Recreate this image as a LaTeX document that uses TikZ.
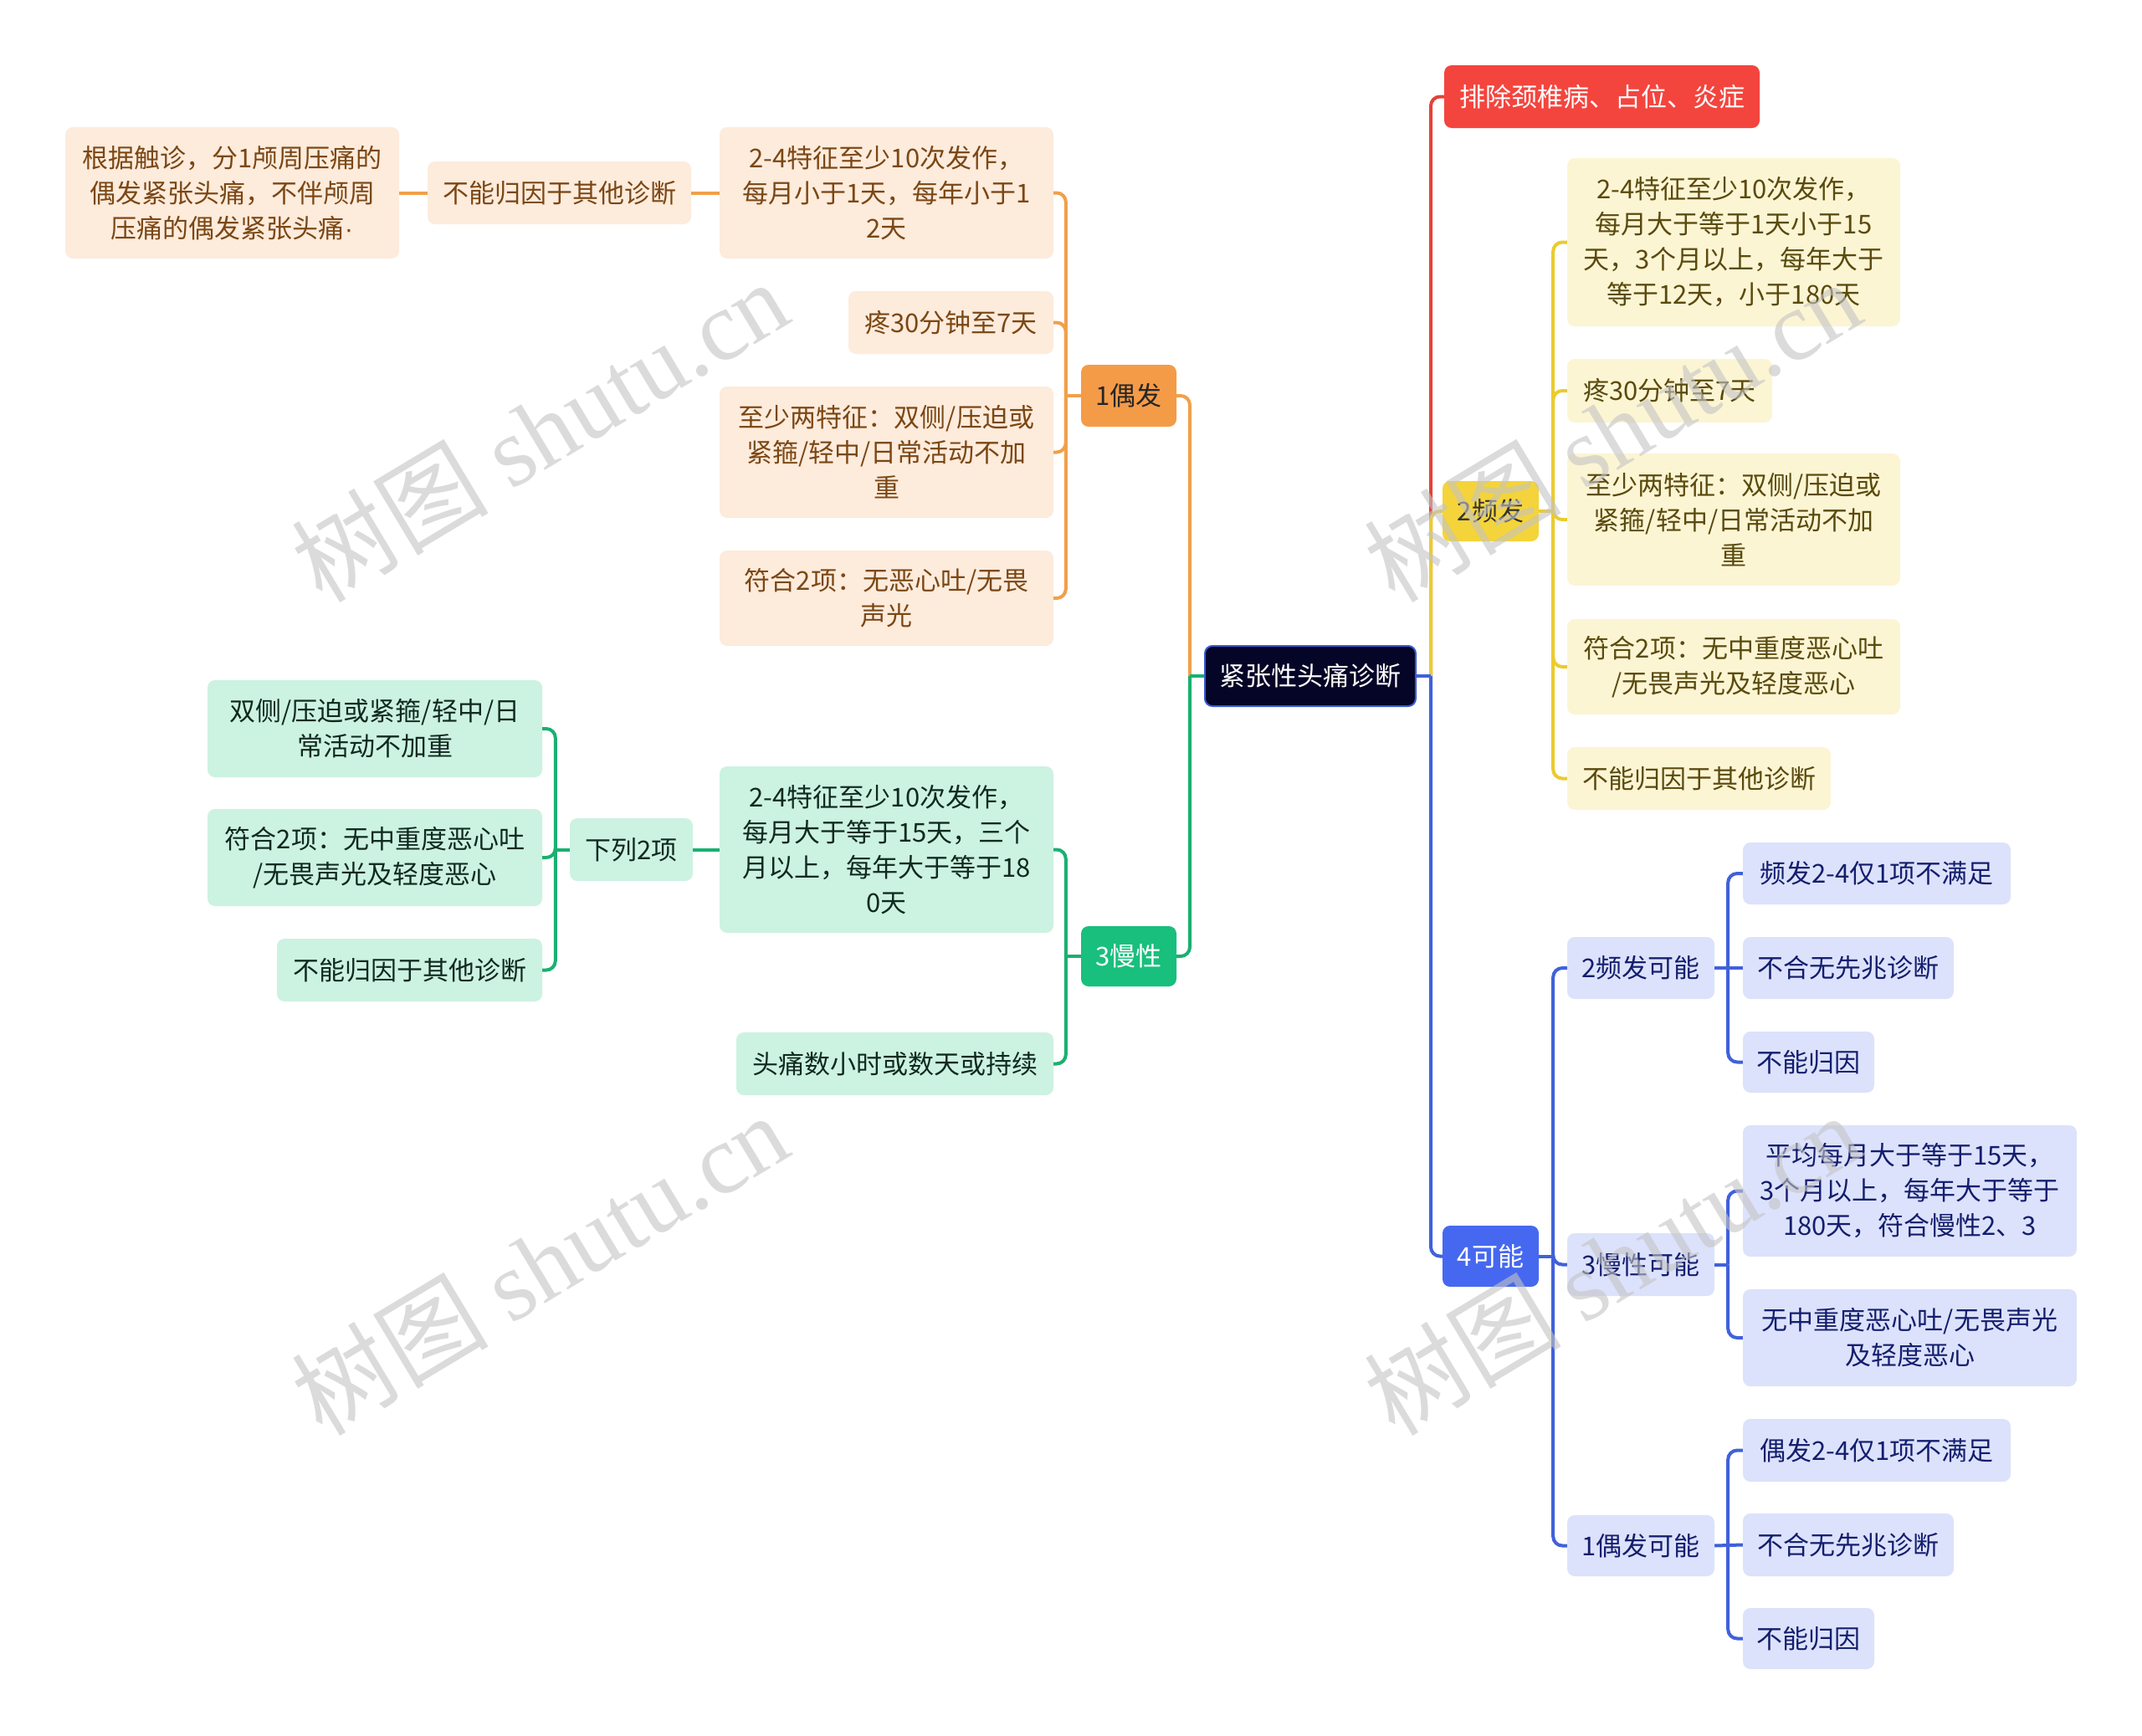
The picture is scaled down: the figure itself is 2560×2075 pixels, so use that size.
\documentclass[tikz,border=0pt]{standalone}
\usepackage{fontspec}
\setmainfont{Noto Sans CJK SC}
\newfontfamily\wmlatin{Liberation Serif}
\newfontfamily\latinsans{Liberation Sans}
\usetikzlibrary{calc}
\definecolor{rootfill}{HTML}{050527}
\definecolor{rootdraw}{HTML}{3A5BD0}
\definecolor{omain}{HTML}{F49B48}
\definecolor{oleaf}{HTML}{FDEBDC}
\definecolor{otext}{HTML}{7B4714}
\definecolor{oline}{HTML}{F0A04B}
\definecolor{gmain}{HTML}{19BF7C}
\definecolor{gleaf}{HTML}{CCF2E2}
\definecolor{gtext}{HTML}{102A1E}
\definecolor{gline}{HTML}{1AB071}
\definecolor{ymain}{HTML}{F4D43A}
\definecolor{yleaf}{HTML}{FCF5D4}
\definecolor{ytext}{HTML}{5A4A0E}
\definecolor{yline}{HTML}{EBCB2F}
\definecolor{rmain}{HTML}{F3453E}
\definecolor{rline}{HTML}{E2433B}
\definecolor{bmain}{HTML}{4668F0}
\definecolor{bleaf}{HTML}{DCE2FB}
\definecolor{btext}{HTML}{141E6E}
\definecolor{bline}{HTML}{4161DA}
\definecolor{wmgray}{HTML}{C4C4C4}
\tikzset{
  box/.style={rounded corners=9pt, align=center, inner sep=0pt,
    font=\fontsize{31}{42}\selectfont},
  rootbox/.style={box, fill=rootfill, draw=rootdraw, line width=2pt, text=white},
  obig/.style={box, fill=omain, text=black!85},
  oleafbox/.style={box, fill=oleaf, text=otext},
  gbig/.style={box, fill=gmain, text=white},
  gleafbox/.style={box, fill=gleaf, text=gtext},
  ybig/.style={box, fill=ymain, text=black!80},
  yleafbox/.style={box, fill=yleaf, text=ytext},
  rbig/.style={box, fill=rmain, text=white},
  bbig/.style={box, fill=bmain, text=white},
  bleafbox/.style={box, fill=bleaf, text=btext},
  conn/.style={line width=4pt, rounded corners=11pt},
  stub/.style={line width=4pt},
  wm/.style={text=wmgray, opacity=0.6, font=\fontsize{118}{118}\selectfont, rotate=31}
}
\newcommand\nd[7]{\node[#1, minimum width=#5pt, minimum height=#6pt] (#2) at (#3,#4) {#7};}
\begin{document}
\begin{tikzpicture}[x=1pt,y=-1pt]
\useasboundingbox[fill=white] (0,0) rectangle (2560,2075);
% nodes
\nd{rootbox}{root}{1566}{808}{252}{72}{紧张性头痛诊断}
% orange
\nd{obig}{o0}{1349}{473}{114}{74}{1偶发}
\nd{oleafbox}{a3}{1059.5}{230.5}{399}{157}{2-4特征至少10次发作，\\每月小于1天，每年小于1\\2天}
\nd{oleafbox}{a2}{668.5}{230.5}{315}{75}{不能归因于其他诊断}
\nd{oleafbox}{a1}{277.5}{230.5}{399}{157}{根据触诊，分1颅周压痛的\\偶发紧张头痛，不伴颅周\\压痛的偶发紧张头痛{\latinsans ·}}
\nd{oleafbox}{a4}{1136.5}{385.5}{245}{75}{疼30分钟至7天}
\nd{oleafbox}{a5}{1059.5}{540.5}{399}{157}{至少两特征：双侧/压迫或\\紧箍/轻中/日常活动不加\\重}
\nd{oleafbox}{a6}{1059.5}{715}{399}{114}{符合2项：无恶心吐/无畏\\声光}
% green
\nd{gbig}{g0}{1349}{1143}{114}{72}{3慢性}
\nd{gleafbox}{g1}{1059.5}{1015.5}{399}{199}{2-4特征至少10次发作，\\每月大于等于15天，三个\\月以上，每年大于等于18\\0天}
\nd{gleafbox}{g2}{1069.5}{1271.5}{379}{75}{头痛数小时或数天或持续}
\nd{gleafbox}{g3}{754.5}{1015.5}{147}{75}{下列2项}
\nd{gleafbox}{g4}{448}{871}{400}{116}{双侧/压迫或紧箍/轻中/日\\常活动不加重}
\nd{gleafbox}{g5}{448}{1025}{400}{116}{符合2项：无中重度恶心吐\\/无畏声光及轻度恶心}
\nd{gleafbox}{g6}{489.5}{1159.5}{317}{75}{不能归因于其他诊断}
% red
\nd{rbig}{r0}{1914.5}{115.5}{377}{75}{排除颈椎病、占位、炎症}
% yellow
\nd{ybig}{y0}{1781.5}{611}{115}{72}{2频发}
\nd{yleafbox}{y1}{2072}{289.5}{398}{201}{2-4特征至少10次发作，\\每月大于等于1天小于15\\天，3个月以上，每年大于\\等于12天，小于180天}
\nd{yleafbox}{y2}{1995.5}{467}{245}{76}{疼30分钟至7天}
\nd{yleafbox}{y3}{2072}{621}{398}{158}{至少两特征：双侧/压迫或\\紧箍/轻中/日常活动不加\\重}
\nd{yleafbox}{y4}{2072}{797}{398}{114}{符合2项：无中重度恶心吐\\/无畏声光及轻度恶心}
\nd{yleafbox}{y5}{2030.5}{930.5}{315}{75}{不能归因于其他诊断}
% blue
\nd{bbig}{b0}{1781.5}{1501.5}{115}{73}{4可能}
\nd{bleafbox}{p1}{1961}{1157}{176}{74}{2频发可能}
\nd{bleafbox}{p2}{1961}{1511.5}{176}{75}{3慢性可能}
\nd{bleafbox}{p3}{1961}{1847.5}{176}{73}{1偶发可能}
\nd{bleafbox}{q1}{2243}{1044}{320}{74}{频发2-4仅1项不满足}
\nd{bleafbox}{q2}{2209}{1157}{252}{74}{不合无先兆诊断}
\nd{bleafbox}{q3}{2161.5}{1269.5}{157}{73}{不能归因}
\nd{bleafbox}{q4}{2282.5}{1423.5}{399}{157}{平均每月大于等于15天，\\3个月以上，每年大于等于\\180天，符合慢性2、3}
\nd{bleafbox}{q5}{2282.5}{1599}{399}{116}{无中重度恶心吐/无畏声光\\及轻度恶心}
\nd{bleafbox}{q6}{2243}{1733.5}{320}{75}{偶发2-4仅1项不满足}
\nd{bleafbox}{q7}{2209}{1846.5}{252}{75}{不合无先兆诊断}
\nd{bleafbox}{q8}{2161.5}{1958.5}{157}{73}{不能归因}
% junction coordinates
\coordinate (jl) at ([xshift=-17pt]root.west);
\coordinate (jr) at ([xshift=17pt]root.east);
\coordinate (jo) at ([xshift=-18pt]o0.west);
\coordinate (jg) at ([xshift=-18pt]g0.west);
\coordinate (jg3) at ([xshift=-17pt]g3.west);
\coordinate (jy) at ([xshift=17pt]y0.east);
\coordinate (jb) at ([xshift=17pt]b0.east);
\coordinate (jp1) at ([xshift=16pt]p1.east);
\coordinate (jp2) at ([xshift=16pt]p2.east);
\coordinate (jp3) at ([xshift=16pt]p3.east);
% connectors: orange
\draw[conn, oline] (jl) |- (o0.east);
\draw[stub, oline] (o0.west) -- (jo);
\foreach \c in {a3,a4,a5,a6}{\draw[conn, oline] (jo) |- (\c.east);}
\draw[stub, oline] (a3.west) -- (a2.east);
\draw[stub, oline] (a2.west) -- (a1.east);
% green
\draw[stub, gline] (root.west) -- (jl);
\draw[conn, gline] (jl) |- (g0.east);
\draw[stub, gline] (g0.west) -- (jg);
\foreach \c in {g1,g2}{\draw[conn, gline] (jg) |- (\c.east);}
\draw[stub, gline] (g1.west) -- (g3.east);
\draw[stub, gline] (g3.west) -- (jg3);
\foreach \c in {g4,g5,g6}{\draw[conn, gline] (jg3) |- (\c.east);}
% red, yellow, blue
\draw[conn, rline] (jr) |- (r0.west);
\draw[conn, yline] (jr) |- (y0.west);
\draw[stub, yline] (y0.east) -- (jy);
\foreach \c in {y1,y2,y3,y4,y5}{\draw[conn, yline] (jy) |- (\c.west);}
\draw[stub, bline] (root.east) -- (jr);
\draw[conn, bline] (jr) |- (b0.west);
\draw[stub, bline] (b0.east) -- (jb);
\foreach \c in {p1,p2,p3}{\draw[conn, bline] (jb) |- (\c.west);}
\draw[stub, bline] (p1.east) -- (q2.west);
\foreach \c in {q1,q3}{\draw[conn, bline] (jp1) |- (\c.west);}
\draw[stub, bline] (p2.east) -- (jp2);
\foreach \c in {q4,q5}{\draw[conn, bline] (jp2) |- (\c.west);}
\draw[stub, bline] (p3.east) -- (q7.west);
\foreach \c in {q6,q8}{\draw[conn, bline] (jp3) |- (\c.west);}
% watermarks
\node[wm] (wm1) at (645,514) {树图 {\wmlatin shutu.cn}};
\node[wm] (wm2) at (645,1510) {树图 {\wmlatin shutu.cn}};
\node[wm] (wm3) at (1927,514) {树图 {\wmlatin shutu.cn}};
\node[wm] (wm4) at (1927,1510) {树图 {\wmlatin shutu.cn}};
\end{tikzpicture}
\end{document}
